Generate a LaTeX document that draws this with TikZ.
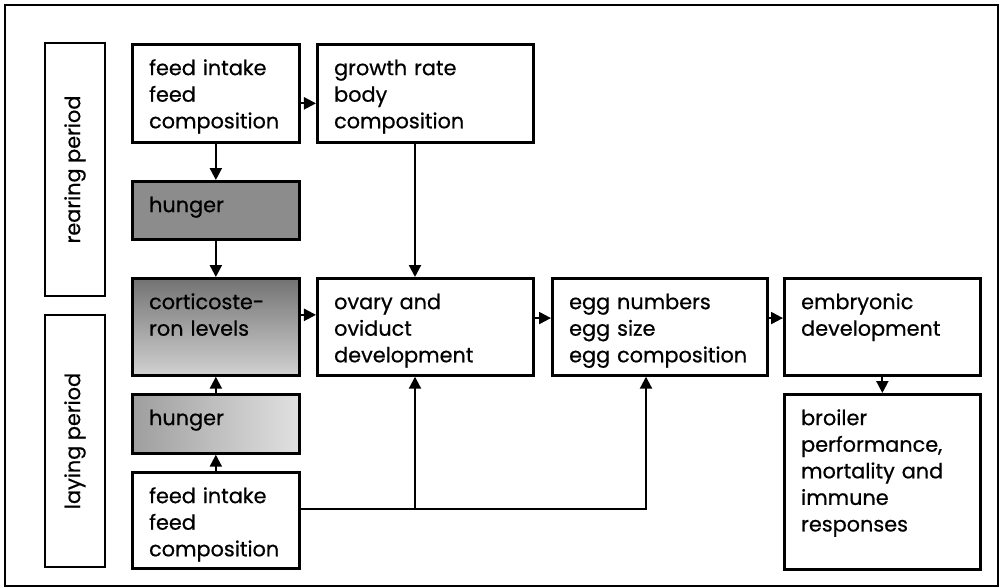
\documentclass[tikz,border=0pt]{standalone}
\usepackage{fontspec}
\setmainfont{Poppins}[FakeBold=0.6]
\usepackage{tikz}
\usetikzlibrary{arrows.meta,shadings}

\begin{document}
\begin{tikzpicture}[
      x=0.025cm, y=-0.025cm, % one unit per pixel
      box/.style={
          rectangle,
          draw=black,
          line width=1.9pt,
          anchor=north west,
          align=left,
          inner xsep=0.42cm,
          inner ysep=0.35cm,
          text height=0.42cm,     % first line sits at the top
          font=\fontsize{14.8}{18.9}\selectfont
      },
      narrow/.style={text width=3.335cm},
      wide/.style={text width=4.56cm},
      period/.style={
          rectangle,
          draw=black,
          line width=1.9pt,
          rotate=90,
          minimum height=1.5cm,
          font=\fontsize{14.8}{18.9}\selectfont
      },
      arrow/.style={-{Triangle[length=0.3cm,width=0.3cm]}, line width=1.5pt}
  ]
      \useasboundingbox (0,0) rectangle (1002,587);
      \draw[line width=1.9pt] (5,5) rectangle (998,586);

      % Periods
      \node (rearing) [period, minimum width=6.325cm] at (75,169.5) {rearing period};
      \node (laying) [period, minimum width=6.3cm] at (75,441) {laying period};

      % Nodes
      \node (feedT) [box, narrow, text depth=1.33cm] at (131,43) {feed intake\\feed\\composition};
      \node (growth) [box, wide, text depth=1.33cm] at (316,43) {growth rate\\body\\composition};
      \node (hungerT) [box, narrow, text depth=0.33cm, fill=black!45] at (131,180) {hunger};
      \node (cortico) [box, narrow, text depth=1.305cm, top color=black!55, bottom color=black!18] at (131,277) {corticoste-\\ron levels};
      \node (hungerB) [box, narrow, text depth=0.355cm, left color=black!38, right color=black!12] at (131,393) {hunger};
      \node (feedB) [box, narrow, text depth=1.28cm] at (131,471) {feed intake\\feed\\composition};
      \node (ovary) [box, wide, text depth=1.305cm] at (316,277) {ovary and\\oviduct\\development};
      \node (egg) [box, text width=4.535cm, text depth=1.305cm] at (551,277) {egg numbers\\egg size\\egg composition};
      \node (embryo) [box, text width=4.06cm, text depth=1.305cm] at (783,277) {embryonic\\development};
      \node (broiler) [box, text width=4.06cm, text depth=3.255cm] at (783,393) {broiler\\performance,\\mortality and\\immune\\responses};

      \coordinate (bus1) at (415,509);
      \coordinate (bus2) at (646,509);

      % Arrows
      \draw [arrow] ([yshift=-0.25cm]feedT.east) -- ([yshift=-0.25cm]growth.west);
      \draw [arrow] (feedT) -- (hungerT);
      \draw [arrow] (hungerT) -- (cortico);
      \draw [arrow] (growth.south -| bus1) -- (ovary.north -| bus1);
      \draw [arrow] ([yshift=0.3cm]cortico.east) -- ([yshift=0.3cm]ovary.west);
      \draw [arrow] (hungerB) -- (cortico);
      \draw [arrow] (feedB) -- (hungerB);
      \draw [arrow] (feedB.east |- bus1) -- (bus2) -- (egg.south -| bus2);
      \draw [arrow] (bus1) -- (ovary.south -| bus1);
      \draw [arrow] ([yshift=0.22cm]ovary.east) -- ([yshift=0.22cm]egg.west);
      \draw [arrow] ([yshift=0.22cm]egg.east) -- ([yshift=0.22cm]embryo.west);
      \draw [arrow] (embryo) -- (broiler);
  \end{tikzpicture}
\end{document}
